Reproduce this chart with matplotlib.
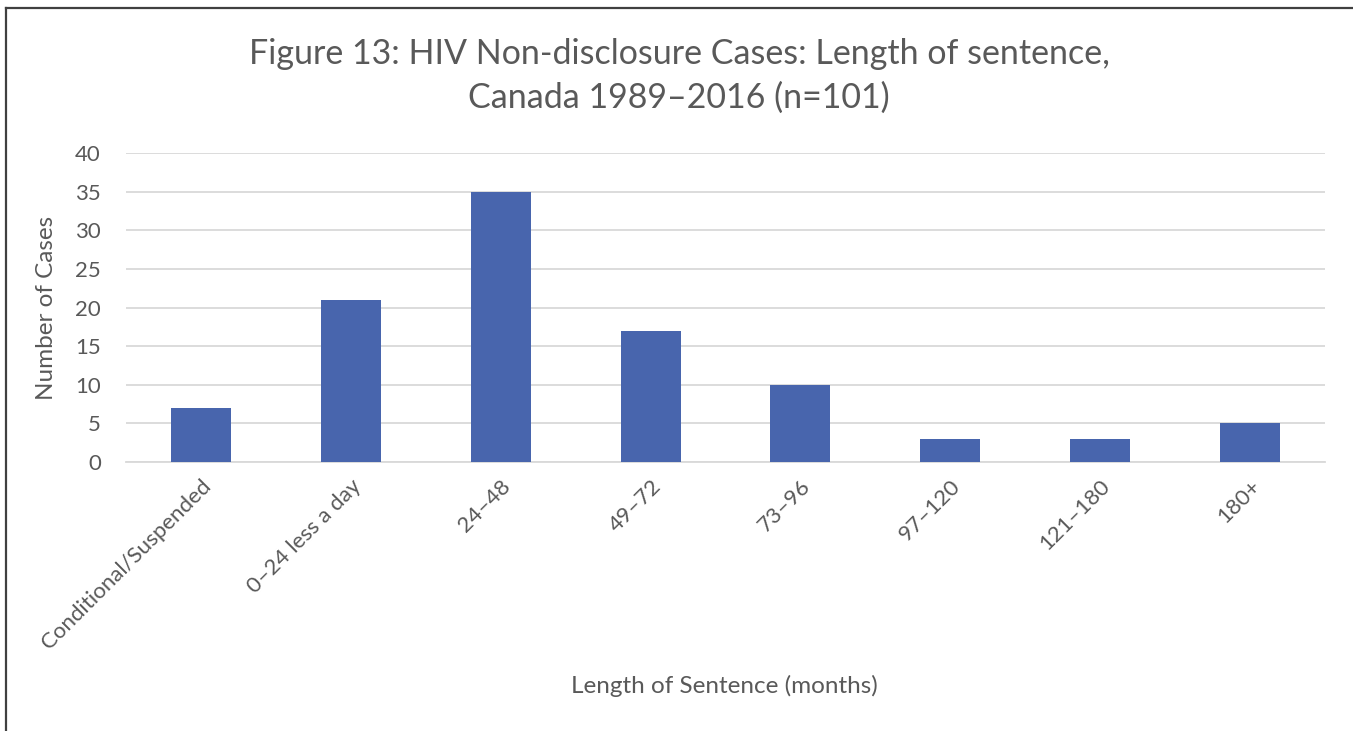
import matplotlib
matplotlib.use("Agg")
import matplotlib.pyplot as plt
from matplotlib.lines import Line2D

categories = ["Conditional/Suspended", "0–24 less a day", "24–48", "49–72",
              "73–96", "97–120", "121–180", "180+"]
cases = [7, 21, 35, 17, 10, 3, 3, 5]
y_ticks = [0, 5, 10, 15, 20, 25, 30, 35, 40]

plt.rcParams['font.family'] = ['Lato', 'DejaVu Sans']
txt = '#595959'

W, H = 1353, 731
fig = plt.figure(figsize=(W/100, H/100), dpi=100)
ax = fig.add_axes([126/W, 1-462/H, (1325-126)/W, (462-153)/H])

x = list(range(len(categories)))
ax.bar(x, cases, width=0.4, color='#4865AD', zorder=3)
ax.set_xlim(-0.5, len(categories)-0.5)
ax.set_ylim(0, 40)
ax.set_yticks(y_ticks)
ax.set_yticklabels([str(v) for v in y_ticks], fontsize=16, color=txt)
ax.yaxis.grid(True, color='#D9D9D9', linewidth=1.3, zorder=0)
ax.tick_params(axis='y', length=0, pad=18)
ax.set_xticks(x)
ax.set_xticklabels(categories, rotation=45, ha='right', rotation_mode='anchor',
                   fontsize=16, color=txt)
ax.tick_params(axis='x', length=0, pad=10)
for s in ['top', 'right', 'left']:
    ax.spines[s].set_visible(False)
ax.spines['bottom'].set_color('#D9D9D9')
ax.spines['bottom'].set_linewidth(1.3)

ax.set_ylabel('Number of Cases', fontsize=17.5, color=txt)
ax.yaxis.set_label_coords((57-126)/(1325-126), 0.5)
fig.text(724.5/W, 1-686/H, 'Length of Sentence (months)', fontsize=17.5, color=txt,
         ha='center', va='center')
fig.text(679/W, 1-76/H, 'Figure 13: HIV Non-disclosure Cases: Length of sentence,\nCanada 1989–2016 (n=101)',
         fontsize=24.5, color=txt, ha='center', va='center', linespacing=1.42)

# outer border
fig.add_artist(Line2D([5.5/W, 5.5/W], [0, 1-8/H], transform=fig.transFigure, color='#404040', lw=1.6))
fig.add_artist(Line2D([5.5/W, 1], [1-8/H, 1-8/H], transform=fig.transFigure, color='#404040', lw=1.6))

fig.savefig('out.png', dpi=100)
